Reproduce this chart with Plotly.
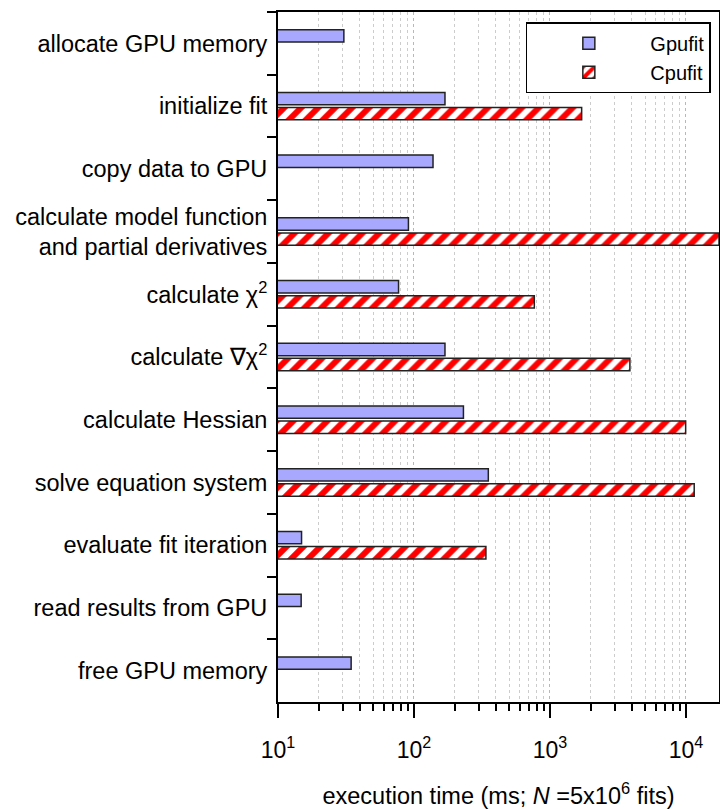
import plotly.graph_objects as go

categories = [
    "allocate GPU memory",
    "initialize fit",
    "copy data to GPU",
    "calculate model function<br>and partial derivatives",
    "calculate χ<sup>2</sup>",
    "calculate ∇χ<sup>2</sup>",
    "calculate Hessian",
    "solve equation system",
    "evaluate fit iteration",
    "read results from GPU",
    "free GPU memory",
]
gpufit = [30.5, 169, 138, 91, 77, 169, 231, 352, 14.9, 14.8, 34.5]
cpufit = [None, 1710, None, 17500, 767, 3870, 9950, 11500, 338, None, None]

major_ticks = [10, 100, 1000, 10000]
major_text = ["10<sup>1</sup>", "10<sup>2</sup>", "10<sup>3</sup>", "10<sup>4</sup>"]
minor_ticks = [m * 10 ** e for e in range(1, 5) for m in range(2, 10) if m * 10 ** e < 18000]

FONT = "Liberation Sans, Arial, sans-serif"

fig = go.Figure()
fig.add_trace(go.Bar(
    y=categories, x=gpufit, orientation="h", name="Gpufit",
    marker=dict(color="#a8a8ff", line=dict(color="#222222", width=1.5)),
))
fig.add_trace(go.Bar(
    y=categories, x=cpufit, orientation="h", name="Cpufit",
    marker=dict(color="white", line=dict(color="#222222", width=1.5),
                pattern=dict(shape="/", fgcolor="#ff0000", bgcolor="white",
                             size=12, solidity=0.5, fillmode="replace")),
))

fig.update_layout(
    width=720, height=809,
    margin=dict(l=278, r=1, t=12, b=107, autoexpand=False),
    paper_bgcolor="white", plot_bgcolor="white",
    font=dict(family=FONT, size=23.5, color="black"),
    barmode="group", bargap=0.52, bargroupgap=0.18,
    showlegend=True,
    legend=dict(x=0.562, y=0.985, xanchor="left", yanchor="top",
                bordercolor="black", borderwidth=1.5, bgcolor="white",
                font=dict(size=20), itemwidth=113, tracegroupgap=0),
    xaxis=dict(
        type="log", range=[1, 4.243], automargin=False,
        tickmode="array", tickvals=major_ticks, ticktext=major_text,
        ticks="outside", ticklen=14, tickwidth=2, tickcolor="black",
        ticklabelstandoff=12,
        showline=True, linecolor="black", linewidth=2, mirror=True,
        showgrid=True, gridcolor="#b8b8b8", griddash="dot", gridwidth=1,
        minor=dict(tickvals=minor_ticks, ticks="outside", ticklen=7, tickwidth=2,
                   tickcolor="black", showgrid=True, gridcolor="#cccccc",
                   griddash="dot", gridwidth=1),
        tickfont=dict(size=23),
        title=dict(text="execution time (ms; <i>N</i> =5x10<sup>6</sup> fits)",
                   font=dict(size=23.5), standoff=28),
        zeroline=False,
    ),
    yaxis=dict(
        type="category", autorange="reversed", automargin=False,
        tickson="boundaries", ticks="outside", ticklen=9, tickwidth=2,
        tickcolor="black", ticklabelstandoff=4,
        showline=True, linecolor="black", linewidth=2, mirror=True,
        showgrid=False, tickfont=dict(size=23.5),
    ),
)

fig.write_html(
    "out.html",
    config={"displayModeBar": False},
    post_script="document.body.style.margin='0';document.body.style.overflow='hidden';",
)
